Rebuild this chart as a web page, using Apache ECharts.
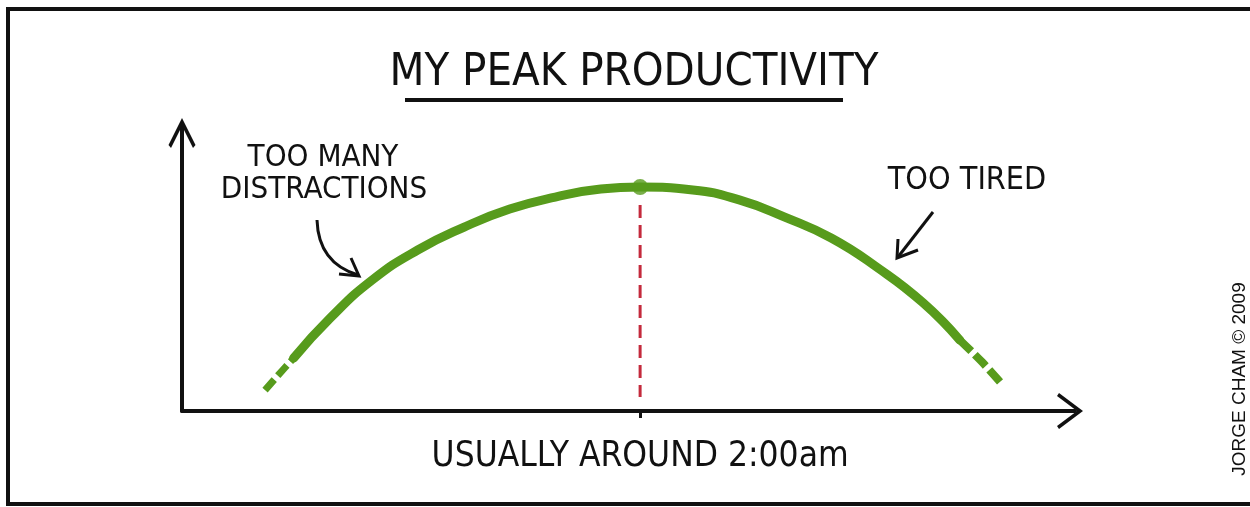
<!DOCTYPE html>
<html>
<head>
<meta charset="utf-8">
<title>My Peak Productivity</title>
<script src="https://cdn.jsdelivr.net/npm/echarts@6/dist/echarts.min.js"></script>
<style>
  html, body { margin: 0; padding: 0; background: #fff; }
  #chart { width: 1250px; height: 507px; }
</style>
</head>
<body>
<div id="chart"></div>
<script>
// values (x = time of day, y = productivity, arbitrary units 0..100)
var curveSolid = [
    [12.5, 18.5], [16.6, 32.5], [21.3, 45.8], [26.4, 56.3], [31.6, 64.3],
    [36.7, 70.6], [41.8, 74.8], [46.9, 77.6], [51.3, 78.3], [57.2, 77.3],
    [62.4, 73.8], [67.5, 67.8], [72.7, 60.5], [77.8, 50.3], [83.0, 37.8],
    [87.1, 24.8]
];
var curveStartDashed = [[9.3, 7.3], [10.9, 13.0], [12.5, 18.5]];
var curveEndDashed = [[87.1, 24.8], [89.6, 17.1], [91.9, 9.1]];
var peak = [51.3, 78.3];
var peakDrop = [[51.3, 72.0], [51.3, 4.9]];
var xLabel = "USUALLY AROUND 2:00am";
var titleText = "MY PEAK PRODUCTIVITY";
var noteLeft = ["TOO MANY", "DISTRACTIONS"];
var noteRight = "TOO TIRED";
var credit = "JORGE CHAM \u00A9 2009";

var ink = "#111";
var green = "#579b1c";
var red = "#c42a3c";
var hand = '"Liberation Sans Narrow", "DejaVu Sans Condensed", "Liberation Sans", sans-serif';

var arrowX = "path://M0,0 L18,24 L15,26 L0,6 L-15,26 L-18,24 Z";
var arrowY = "path://M0,0 L13.5,27 L11,30 L0,8 L-11,30 L-13.5,27 Z";

function desenhar() {
    const el = document.getElementById("chart");
    const chart = echarts.init(el, null, { renderer: "canvas" });
    const option = {
        animation: false,
        backgroundColor: "#fff",
        title: {
            text: titleText,
            left: 629,
            textAlign: "center",
            top: 46,
            textStyle: { fontFamily: hand, fontSize: 45, fontWeight: "normal", color: ink }
        },
        grid: { left: 182, right: 175, top: 125, bottom: 96, containLabel: false, outerBoundsMode: "none" },
        xAxis: {
            type: "value",
            min: 0,
            max: 100,
            splitLine: { show: false },
            axisLine: {
                show: true,
                lineStyle: { color: ink, width: 4 },
                symbol: ["none", arrowX],
                symbolSize: [36, 26],
                symbolOffset: [0, -5]
            },
            axisTick: { show: true, customValues: [peak[0]], length: 7, lineStyle: { color: ink, width: 3 } },
            axisLabel: {
                show: true,
                customValues: [peak[0]],
                formatter: function () { return xLabel; },
                margin: 28,
                fontFamily: hand,
                fontSize: 35,
                color: ink
            }
        },
        yAxis: {
            type: "value",
            min: 0,
            max: 100,
            splitLine: { show: false },
            axisTick: { show: false },
            axisLabel: { show: false },
            axisLine: {
                show: true,
                lineStyle: { color: ink, width: 4 },
                symbol: ["none", arrowY],
                symbolSize: [27, 30],
                symbolOffset: [0, -8]
            }
        },
        series: [
            {
                type: "line",
                data: peakDrop,
                showSymbol: false,
                lineStyle: { color: red, width: 3, type: [13, 7] },
                z: 1
            },
            {
                type: "line",
                data: curveSolid,
                smooth: 0.5,
                showSymbol: false,
                lineStyle: { color: green, width: 9, cap: "round" },
                z: 3
            },
            {
                type: "line",
                data: curveStartDashed,
                smooth: 0.3,
                showSymbol: false,
                lineStyle: { color: green, width: 7, type: [14, 5] },
                z: 3
            },
            {
                type: "line",
                data: curveEndDashed,
                smooth: 0.3,
                showSymbol: false,
                lineStyle: { color: green, width: 8, type: [16, 5] },
                z: 3
            },
            {
                type: "scatter",
                data: [peak],
                symbol: "circle",
                symbolSize: 16,
                itemStyle: { color: green },
                z: 4
            }
        ],
        graphic: [
            // comic frame
            { type: "rect", shape: { x: 8, y: 9, width: 1400, height: 495 }, style: { fill: "none", stroke: ink, lineWidth: 4 } },
            // title underline
            { type: "line", shape: { x1: 405, y1: 100, x2: 843, y2: 100 }, style: { stroke: ink, lineWidth: 4 } },
            // notes
            { type: "text", x: 323, y: 158, style: { text: noteLeft[0], fontFamily: hand, fontSize: 31, fill: ink, align: "center", verticalAlign: "middle" } },
            { type: "text", x: 324, y: 190, style: { text: noteLeft[1], fontFamily: hand, fontSize: 31, fill: ink, align: "center", verticalAlign: "middle" } },
            { type: "text", x: 967, y: 181, style: { text: noteRight, fontFamily: hand, fontSize: 32, fill: ink, align: "center", verticalAlign: "middle" } },
            // note arrows
            { type: "bezierCurve", shape: { x1: 317, y1: 220, cpx1: 318, cpy1: 252, cpx2: 335, cpy2: 268, x2: 358, y2: 275 }, style: { stroke: ink, lineWidth: 3, fill: "none" } },
            { type: "polyline", shape: { points: [[339, 274], [359, 276], [351, 258]] }, style: { stroke: ink, lineWidth: 3, fill: "none" } },
            { type: "line", shape: { x1: 933, y1: 212, x2: 898, y2: 257 }, style: { stroke: ink, lineWidth: 3 } },
            { type: "polyline", shape: { points: [[898, 239], [897, 258], [918, 250]] }, style: { stroke: ink, lineWidth: 3, fill: "none" } },
            // credit
            { type: "text", x: 1240, y: 379, rotation: Math.PI / 2, style: { text: credit, fontFamily: '"Liberation Sans", sans-serif', fontSize: 19, fill: ink, align: "center", verticalAlign: "middle" } }
        ]
    };
    chart.setOption(option);
}

window.onload = desenhar;
</script>
</body>
</html>
